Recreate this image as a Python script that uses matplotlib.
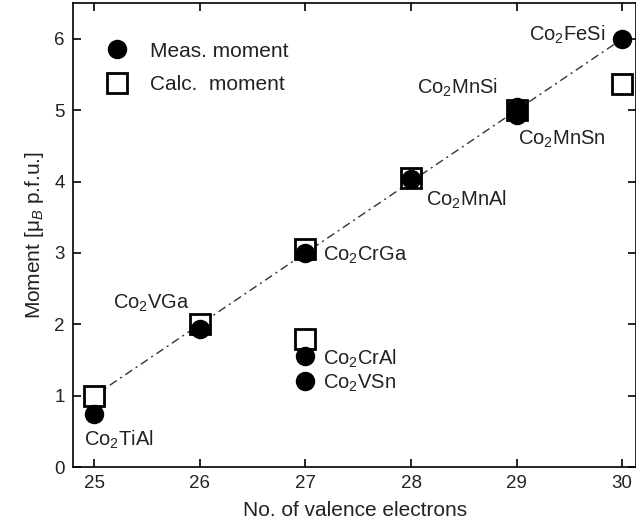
import matplotlib
matplotlib.use('Agg')
import matplotlib.pyplot as plt

plt.rcParams['font.family'] = ['Liberation Sans', 'DejaVu Sans']
plt.rcParams['mathtext.fontset'] = 'custom'
plt.rcParams['mathtext.rm'] = 'Liberation Sans'
plt.rcParams['mathtext.it'] = 'Liberation Sans:italic'

# measured moments
meas_n = [25, 26, 27, 27, 27, 28, 29, 29, 30]
meas_m = [0.75, 1.93, 3.0, 1.55, 1.21, 4.04, 4.93, 5.05, 6.0]
# calculated moments
calc_n = [25, 26, 27, 27, 28, 29, 30]
calc_m = [1.0, 2.0, 3.05, 1.8, 4.05, 5.0, 5.37]
# Slater-Pauling line
sp_n = [25, 30]
sp_m = [1, 6]

names = ['Co$_2$TiAl', 'Co$_2$VGa', 'Co$_2$CrGa', 'Co$_2$MnAl', 'Co$_2$MnSn',
         'Co$_2$MnSi', 'Co$_2$FeSi', 'Co$_2$CrAl', 'Co$_2$VSn']
name_x = [24.9, 25.18, 27.17, 28.14, 29.01, 28.82, 29.84, 27.17, 27.17]
name_y = [0.38, 2.3, 2.97, 3.74, 4.59, 5.31, 6.06, 1.51, 1.18]
name_ha = ['left', 'left', 'left', 'left', 'left', 'right', 'right', 'left', 'left']

fig = plt.figure(figsize=(6.36, 5.29), dpi=100)
ax = fig.add_axes([0.115, 0.117, 0.885, 0.877])

ax.plot(sp_n, sp_m, color='#333333', lw=1.0, ls=(0, (6, 3, 1.5, 3)), zorder=1)
ax.plot(calc_n, calc_m, ls='none', marker='s', ms=15, mfc='white', mec='black',
        mew=2, label='Calc.  moment', zorder=2)
ax.plot(meas_n, meas_m, ls='none', marker='o', ms=13, color='black',
        label='Meas. moment', zorder=3)

for t, x, y, ha in zip(names, name_x, name_y, name_ha):
    ax.text(x, y, t, ha=ha, va='center', fontsize=14.5, color='#222222')

h, l = ax.get_legend_handles_labels()
ax.legend(h[::-1], l[::-1], loc='upper left', frameon=False, fontsize=15,
          bbox_to_anchor=(0.034, 0.935), handletextpad=0.75, labelspacing=0.7,
          borderaxespad=0, handlelength=1.6, labelcolor='#222222')

ax.set_xlim(24.8, 30.13)
ax.set_ylim(0, 6.5)
ax.set_xticks([25, 26, 27, 28, 29, 30])
ax.set_yticks([0, 1, 2, 3, 4, 5, 6])
ax.tick_params(direction='in', top=True, right=True, length=6, width=1.2,
               labelsize=13.5, pad=6, labelcolor='#222222')
for s in ax.spines.values():
    s.set_linewidth(1.2)
ax.set_xlabel('No. of valence electrons', fontsize=15, labelpad=6, color='#222222')
ax.set_ylabel('Moment [μ$_B$ p.f.u.]', fontsize=15, labelpad=6, color='#222222')

fig.savefig('out.png', dpi=100)
